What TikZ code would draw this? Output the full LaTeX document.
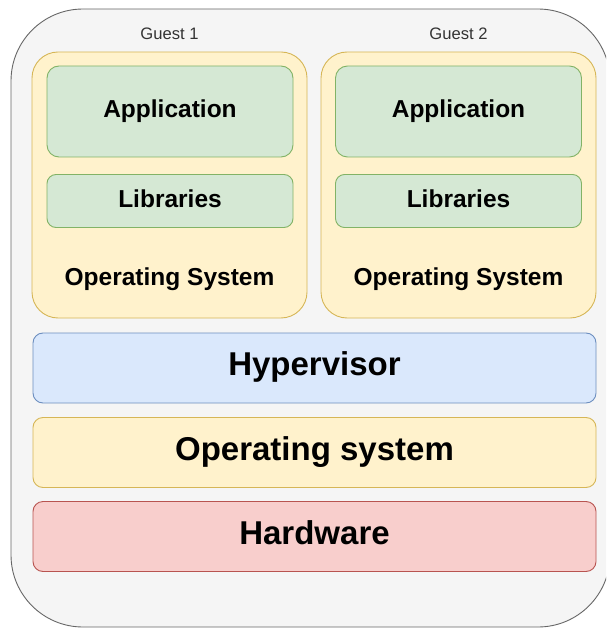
\documentclass[tikz,border=0pt]{standalone}
\usepackage{fontspec}
\setmainfont{Liberation Sans}
\definecolor{hostfill}{HTML}{F5F5F5}
\definecolor{hostline}{HTML}{666666}
\definecolor{labeltext}{HTML}{333333}
\definecolor{greenfill}{HTML}{D5E8D4}
\definecolor{greenline}{HTML}{82B366}
\definecolor{yellowfill}{HTML}{FFF2CC}
\definecolor{yellowline}{HTML}{D6B656}
\definecolor{bluefill}{HTML}{DAE8FC}
\definecolor{blueline}{HTML}{6C8EBF}
\definecolor{redfill}{HTML}{F8CECC}
\definecolor{redline}{HTML}{B85450}
\begin{document}
\begin{tikzpicture}[x=1pt,y=-1pt,
  shapebox/.style={draw, line width=0.9pt, inner sep=0pt, rectangle},
  midtext/.style={font=\fontsize{24.5}{30}\selectfont\bfseries, text height=18pt, text depth=5.4pt},
  bigtext/.style={font=\fontsize{33}{40}\selectfont\bfseries, text height=24pt, text depth=9pt},
  guestbox/.style={shapebox, fill=yellowfill, draw=yellowline, rounded corners=26pt,
    minimum width=275pt, minimum height=266pt},
  appbox/.style={shapebox, midtext, fill=greenfill, draw=greenline, rounded corners=12pt,
    minimum width=246pt, minimum height=91pt},
  libbox/.style={shapebox, midtext, fill=greenfill, draw=greenline, rounded corners=9pt,
    minimum width=246pt, minimum height=53pt},
  layerbox/.style={shapebox, bigtext, rounded corners=10pt, minimum width=563pt, minimum height=70pt},
  guestos/.style={font=\fontsize{24.5}{30}\selectfont\bfseries, inner sep=0pt, anchor=base},
  guestname/.style={font=\fontsize{16.6}{20}\selectfont, text=labeltext, inner sep=0pt, anchor=base}
]
\clip (0,0) rectangle (606,628);

% host machine outline
\node[shapebox, fill=hostfill, draw=hostline, rounded corners=72pt,
  minimum width=599pt, minimum height=618pt] (host) at (310.5,318) {};

% guest 1
\node[guestname] (g1name) at (169.5,39.3) {Guest 1};
\node[guestbox] (g1) at (169.5,185) {};
\node[appbox] (app1) at (170,111.5) {Application};
\node[libbox] (lib1) at (170,201) {Libraries};
\node[guestos] (os1) at (169.5,285) {Operating System};

% guest 2
\node[guestname] (g2name) at (458.5,39.3) {Guest 2};
\node[guestbox] (g2) at (458.5,185) {};
\node[appbox] (app2) at (458.5,111.5) {Application};
\node[libbox] (lib2) at (458.5,201) {Libraries};
\node[guestos] (os2) at (458.5,285) {Operating System};

% host layers
\node[layerbox, fill=bluefill, draw=blueline] (hyp) at (314.5,368) {Hypervisor};
\node[layerbox, fill=yellowfill, draw=yellowline] (hostos) at (314.5,452.5) {Operating system};
\node[layerbox, fill=redfill, draw=redline] (hw) at (314.5,536.5) {Hardware};
\end{tikzpicture}
\end{document}
